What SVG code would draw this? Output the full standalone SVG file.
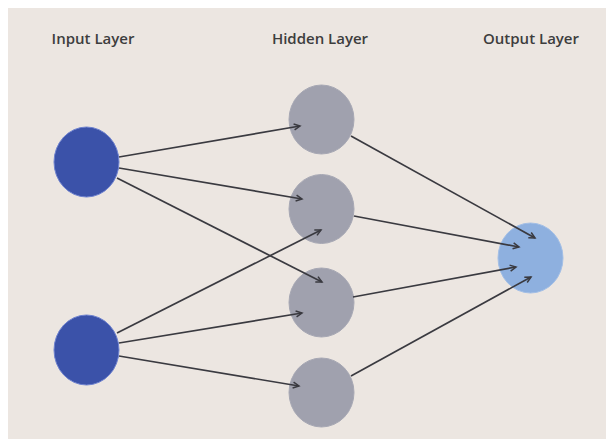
<svg xmlns="http://www.w3.org/2000/svg" width="606" height="439" viewBox="0 0 606 439">
  <defs>
    <style>
      .label { font-family: "Open Sans", "Liberation Sans", sans-serif; font-weight: 600; font-size: 15px; fill: #3d3d3d; text-anchor: middle; }
      .edge { stroke: #3a3a40; stroke-width: 1.7; fill: none; marker-end: url(#arrow); }
      .input { fill: #3b52a9; stroke: #6e82cf; stroke-width: 1; }
      .hidden { fill: #a0a1ae; stroke: #a7a8b4; stroke-width: 1; }
      .output { fill: #8eb0df; stroke: #a3bfe6; stroke-width: 1; }
    </style>
    <marker id="arrow" markerUnits="userSpaceOnUse" markerWidth="10" markerHeight="10" refX="8" refY="4" orient="auto" viewBox="0 0 10 8">
      <path d="M2,1 L8,4 L2,7" fill="none" stroke="#3a3a40" stroke-width="1.5"/>
    </marker>
  </defs>
  <rect x="0" y="0" width="606" height="439" fill="#ffffff"/>
  <rect x="8" y="8" width="598" height="431" fill="#ece6e1"/>

  <g id="labels">
    <text class="label" x="93" y="43.5">Input Layer</text>
    <text class="label" x="320" y="43.5">Hidden Layer</text>
    <text class="label" x="531" y="43.5">Output Layer</text>
  </g>

  <g id="input1"><ellipse class="input" cx="86.5" cy="162" rx="32.5" ry="35"/></g>
  <g id="input2"><ellipse class="input" cx="86.5" cy="350" rx="32.5" ry="35"/></g>
  <g id="hidden1"><ellipse class="hidden" cx="321.5" cy="119.5" rx="32.5" ry="34.5"/></g>
  <g id="hidden2"><ellipse class="hidden" cx="321.5" cy="209" rx="32.5" ry="34.5"/></g>
  <g id="hidden3"><ellipse class="hidden" cx="321.5" cy="302.5" rx="32.5" ry="34.5"/></g>
  <g id="hidden4"><ellipse class="hidden" cx="321.5" cy="392.5" rx="32.5" ry="34.5"/></g>
  <g id="output1"><ellipse class="output" cx="530.5" cy="258" rx="32.5" ry="35"/></g>

  <g id="connectors">
    <line class="edge" x1="119" y1="157" x2="300" y2="126"/>
    <line class="edge" x1="119" y1="168" x2="302" y2="199"/>
    <line class="edge" x1="117" y1="178" x2="322" y2="282"/>
    <line class="edge" x1="117" y1="333" x2="321" y2="230"/>
    <line class="edge" x1="119" y1="343" x2="302" y2="313"/>
    <line class="edge" x1="119" y1="356" x2="299" y2="386"/>
    <line class="edge" x1="351" y1="136" x2="535" y2="238"/>
    <line class="edge" x1="354" y1="216" x2="519" y2="247"/>
    <line class="edge" x1="353" y1="297" x2="516" y2="267"/>
    <line class="edge" x1="351" y1="376" x2="531" y2="277"/>
  </g>
</svg>
